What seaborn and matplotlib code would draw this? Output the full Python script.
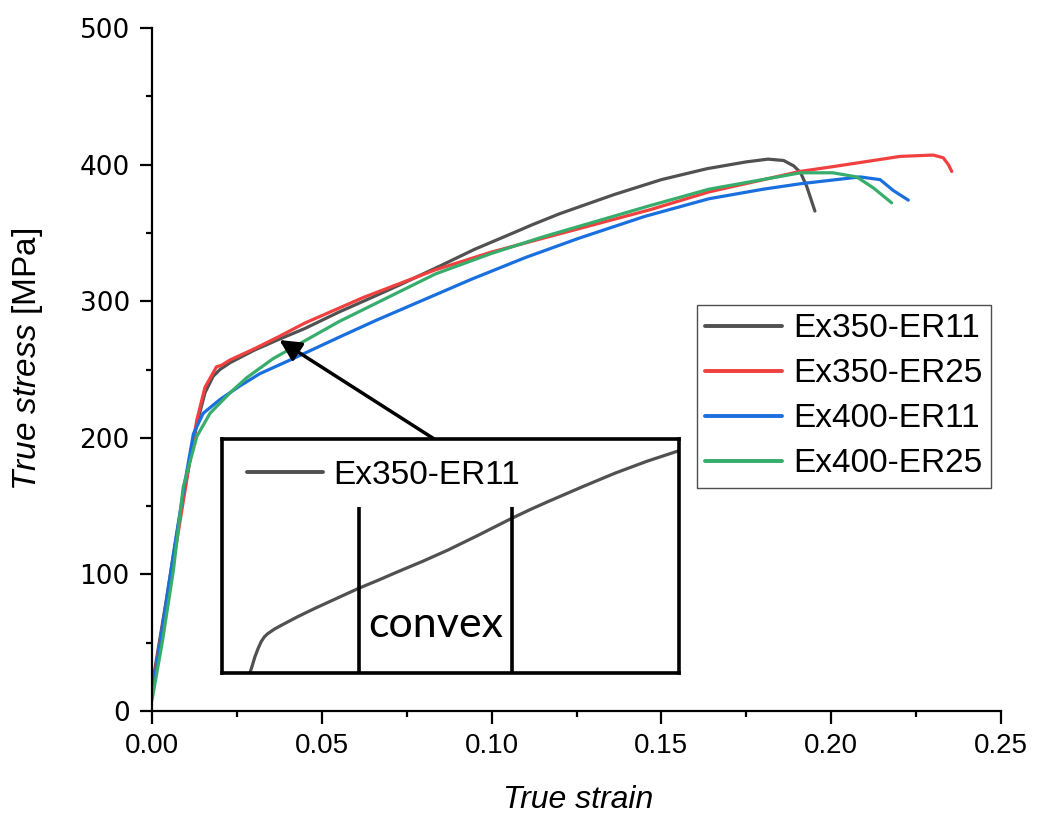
import numpy as np
import pandas as pd
import matplotlib
matplotlib.use('Agg')
import matplotlib.pyplot as plt
import seaborn as sns
from matplotlib.ticker import MultipleLocator, FormatStrFormatter

# ---------------- data ----------------
labels = ['Ex350-ER11', 'Ex350-ER25', 'Ex400-ER11', 'Ex400-ER25']
colors = ['#515151', '#F14040', '#1A6FDF', '#37AD6B']

strain_350_11 = [0.000, 0.004, 0.008, 0.0112, 0.0132, 0.0156, 0.018, 0.020, 0.023, 0.030,
                 0.0373, 0.045, 0.055, 0.065, 0.073, 0.085, 0.095, 0.1045, 0.112, 0.120,
                 0.136, 0.150, 0.1634, 0.175, 0.1814, 0.186, 0.189, 0.191, 0.1928, 0.194,
                 0.1952]
stress_350_11 = [18, 78, 140, 184, 210, 233, 245, 250, 255, 264,
                 272, 280, 292, 303, 312, 326, 338, 348, 356, 364,
                 378, 389, 397, 402, 404, 403, 399, 394, 384, 375,
                 366]

strain_350_25 = [0.000, 0.004, 0.008, 0.0112, 0.0132, 0.0156, 0.019, 0.0204, 0.023, 0.030,
                 0.0373, 0.045, 0.0625, 0.0835, 0.100, 0.115, 0.1467, 0.164, 0.1908, 0.2005,
                 0.2203, 0.230, 0.233, 0.2345, 0.2355]
stress_350_25 = [15, 75, 135, 184, 213, 237, 252, 253, 257, 265,
                 274, 284, 303, 323, 336, 346, 367, 380, 395, 398.5,
                 406, 407, 405, 400, 395]

strain_400_11 = [0.000, 0.003, 0.0063, 0.0095, 0.0122, 0.0151, 0.020, 0.0259, 0.0318, 0.0416,
                 0.0554, 0.066, 0.080, 0.094, 0.110, 0.1256, 0.145, 0.164, 0.180, 0.191,
                 0.2085, 0.2144, 0.2183, 0.2227]
stress_400_11 = [12, 60, 115, 165, 203, 218, 228, 238, 247, 258,
                 274, 286, 301, 316, 332, 346, 362, 375, 382, 386,
                 391, 389, 381, 374]

strain_400_25 = [0.000, 0.003, 0.0063, 0.0092, 0.0132, 0.0171, 0.023, 0.0279, 0.0318, 0.0357,
                 0.045, 0.055, 0.0835, 0.100, 0.115, 0.1467, 0.164, 0.191, 0.2005, 0.2075,
                 0.2124, 0.2178]
stress_400_25 = [8, 50, 103, 164, 201, 218, 233, 244, 251, 258,
                 271, 285, 320, 335, 347, 370, 382, 394, 394, 391,
                 383, 372]

# inset (zoomed view of Ex350-ER11, normalised inset coordinates)
inset_x = [0.061, 0.066, 0.072, 0.079, 0.086, 0.093, 0.100, 0.115, 0.130, 0.165,
           0.203, 0.250, 0.298, 0.340, 0.385, 0.440, 0.495, 0.560, 0.634, 0.675,
           0.714, 0.790, 0.860, 0.930, 1.000]
inset_y = [0.000, 0.030, 0.069, 0.105, 0.135, 0.155, 0.168, 0.188, 0.204, 0.240,
           0.276, 0.318, 0.361, 0.395, 0.433, 0.478, 0.526, 0.588, 0.661, 0.699,
           0.733, 0.797, 0.854, 0.905, 0.950]
inset_marks = [0.3005, 0.634]
inset_mark_top = 0.711

# ---------------- style ----------------
sns.set_theme(style='ticks')
plt.rcParams['font.family'] = ['Liberation Sans', 'DejaVu Sans']
plt.rcParams['mathtext.fontset'] = 'custom'
plt.rcParams['mathtext.rm'] = 'Liberation Sans'
plt.rcParams['mathtext.it'] = 'Liberation Sans:italic'
for k in ['text.color', 'axes.labelcolor', 'xtick.color', 'ytick.color', 'axes.edgecolor']:
    plt.rcParams[k] = 'black'

fig = plt.figure(figsize=(10.37, 8.16), dpi=100)
ax = fig.add_axes([152/1037, 1-711/816, 849/1037, 683/816])

frames = []
for lab, sx, sy in zip(labels,
                       [strain_350_11, strain_350_25, strain_400_11, strain_400_25],
                       [stress_350_11, stress_350_25, stress_400_11, stress_400_25]):
    frames.append(pd.DataFrame({'strain': sx, 'stress': sy, 'sample': lab}))
df = pd.concat(frames, ignore_index=True)

sns.lineplot(data=df, x='strain', y='stress', hue='sample', hue_order=labels,
             palette=colors, sort=False, estimator=None, lw=2.3, ax=ax)

ax.set_xlim(0, 0.25)
ax.set_ylim(0, 500)
ax.xaxis.set_major_locator(MultipleLocator(0.05))
ax.xaxis.set_minor_locator(MultipleLocator(0.025))
ax.yaxis.set_major_locator(MultipleLocator(100))
ax.yaxis.set_minor_locator(MultipleLocator(50))
ax.xaxis.set_major_formatter(FormatStrFormatter('%.2f'))
sns.despine(ax=ax)
for sp in ['left', 'bottom']:
    ax.spines[sp].set_linewidth(1.6)
    ax.spines[sp].set_color('black')
ax.tick_params(which='major', direction='out', length=9, width=1.6, color='black',
               labelcolor='black', pad=7)
ax.tick_params(which='minor', direction='out', length=4, width=1.6, color='black')
for t in ax.get_xticklabels():
    t.set_fontsize(20)
    t.set_family('Liberation Sans')
for t in ax.get_yticklabels():
    t.set_fontsize(19)
    t.set_family('DejaVu Sans')

ax.set_xlabel('True strain', fontsize=23, style='italic', color='black')
ax.xaxis.set_label_coords(0.502, -0.108)
ax.set_ylabel(r'$\mathit{True\ stress}$ [MPa]', fontsize=24, color='black')
ax.yaxis.set_label_coords(-0.126, 0.514)

leg = ax.legend(loc='upper left', bbox_to_anchor=((697-152)/849, (711-305)/683),
                fontsize=24, frameon=True, fancybox=False, borderpad=0.25,
                handlelength=2.3, handletextpad=0.35, labelspacing=0.42,
                borderaxespad=0)
leg.get_frame().set_edgecolor('#222222')
leg.get_frame().set_linewidth(1.0)
for h in leg.get_lines():
    h.set_linewidth(2.8)
for t in leg.get_texts():
    t.set_color('black')

# arrow
ax.annotate('', xy=(0.0375, 271.6), xytext=(0.0828, 199.6),
            arrowprops=dict(arrowstyle='-|>', lw=2.5, color='black', mutation_scale=32,
                            shrinkA=0, shrinkB=0), zorder=5)

# inset
axi = fig.add_axes([222/1037, 1-673/816, 457/1037, 234/816])
axi.set_zorder(10)
axi.set_facecolor('white')
sns.lineplot(x=inset_x, y=inset_y, sort=False, estimator=None, color=colors[0], lw=2.3,
             ax=axi, label='Ex350-ER11')
axi.vlines(inset_marks, 0, inset_mark_top, color='black', lw=2.6)
axi.text(0.4677, 0.205, 'convex', fontsize=31, family='Lato', ha='center', va='center',
         color='black', transform=axi.transAxes)
axi.set_xlim(0, 1)
axi.set_ylim(0, 1)
axi.set_xticks([])
axi.set_yticks([])
axi.set_xlabel('')
axi.set_ylabel('')
for sp in axi.spines.values():
    sp.set_linewidth(2.6)
    sp.set_color('black')
    sp.set_visible(True)
li = axi.legend(loc='center left', bbox_to_anchor=(0.054, 0.846), frameon=False,
                fontsize=24, handlelength=2.3, handletextpad=0.3, borderpad=0,
                borderaxespad=0)
for h in li.get_lines():
    h.set_linewidth(2.8)
for t in li.get_texts():
    t.set_color('black')

fig.savefig('out.png', dpi=100)
